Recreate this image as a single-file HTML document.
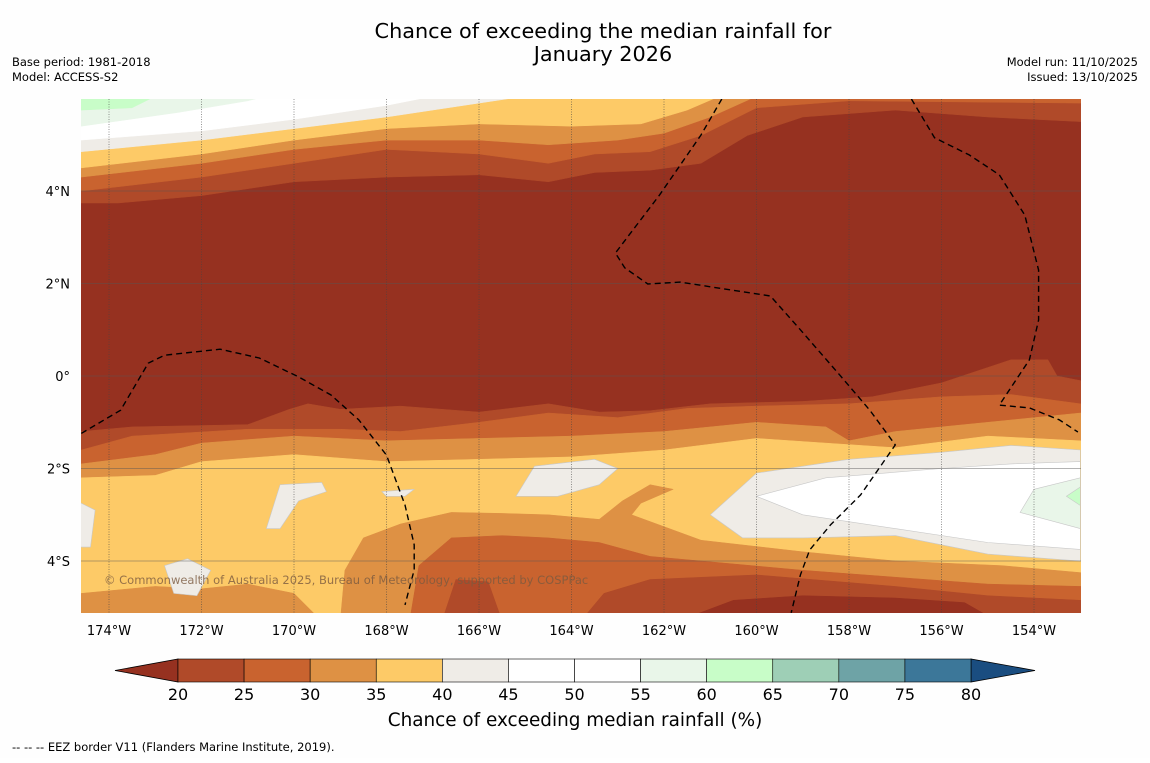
<!DOCTYPE html>
<html><head><meta charset="utf-8">
<style>
html,body{margin:0;padding:0;background:#fff;}
body{width:1150px;height:758px;overflow:hidden;font-family:"Liberation Sans","DejaVu Sans",sans-serif;}
svg text{font-family:"DejaVu Sans","Liberation Sans",sans-serif;}
</style></head>
<body>
<svg id="chart" width="1150" height="758" xmlns="http://www.w3.org/2000/svg">
<rect x="0" y="0" width="1150" height="758" fill="#fefefe"/>
<text x="603" y="38" text-anchor="middle" font-size="20.8" fill="#000">Chance of exceeding the median rainfall for</text>
<text x="603" y="61" text-anchor="middle" font-size="20.8" fill="#000">January 2026</text>
<text x="12" y="66" font-size="11.5">Base period: 1981-2018</text>
<text x="12" y="81" font-size="11.5">Model: ACCESS-S2</text>
<text x="1138" y="66" font-size="11.5" text-anchor="end">Model run: 11/10/2025</text>
<text x="1138" y="81" font-size="11.5" text-anchor="end">Issued: 13/10/2025</text>
<defs><clipPath id="mapclip"><rect x="81" y="99" width="1000" height="514"/></clipPath></defs>
<g id="map" clip-path="url(#mapclip)"></g>
<g id="axes"></g>
<g id="cbar"></g>
<text x="575" y="726" text-anchor="middle" font-size="18.4">Chance of exceeding median rainfall (%)</text>
<text x="12" y="751" font-size="11.5">--  --  -- EEZ border V11 (Flanders Marine Institute, 2019).</text>
</svg>
<script>
// ---- data ----
var lonTicks = [-174,-172,-170,-168,-166,-164,-162,-160,-158,-156,-154];
var latTicks = [4,2,0,-2,-4];
var cbarLevels = [20,25,30,35,40,45,50,55,60,65,70,75,80];
var cbarColors = ["#b04a29","#c9632f","#de9144","#fdca67","#efece7","#ffffff","#ffffff","#e9f6e9","#c8fdc8","#9ecfb6","#6ea3a6","#3c7799"];
var underColor = "#963120", overColor = "#1a4d80";
var colorDark="#963120",c20="#b04a29",c25="#c9632f",c30="#de9144",c35="#fdca67",c40="#efece7",c45="#ffffff",c55="#e9f6e9",c60="#c8fdc8";
var north20 = [[-174.6,3.74],[-173.8,3.74],[-172,3.9],[-170,4.2],[-168,4.3],[-166,4.35],[-164.5,4.2],[-163.5,4.4],[-162.3,4.45],[-161.2,4.6],[-160.2,5.2],[-159,5.6],[-157,5.75],[-155,5.6],[-153,5.5]];
var north25 = [[-174.6,4.0],[-172,4.3],[-170,4.6],[-168,4.9],[-166,4.8],[-164.5,4.6],[-163.5,4.8],[-162.3,4.85],[-161.2,5.2],[-160,5.8],[-158,5.95],[-153,5.9]];
var north30 = [[-174.6,4.3],[-172,4.6],[-170,4.9],[-168,5.1],[-166,5.1],[-164.5,5.0],[-163,5.1],[-162,5.25],[-161,5.6],[-160,6.05]];
var north35 = [[-174.6,4.5],[-172,4.8],[-170,5.1],[-168,5.35],[-166,5.45],[-164,5.4],[-162.5,5.45],[-161.5,5.75],[-160.8,6.05]];
var north40 = [[-174.6,4.85],[-172,5.1],[-170,5.35],[-168,5.6],[-166,5.9],[-165,6.05]];
var north45 = [[-174.6,5.1],[-172,5.3],[-170,5.55],[-168,5.85],[-167,6.05]];
var north55 = [[-174.6,5.4],[-172.5,5.7],[-171,5.95],[-170.6,6.05]];
var north60 = [[-174.6,5.75],[-173.5,5.8],[-173,6.05]];
var south20 = [[-174.6,-1.2],[-173.5,-1.1],[-171,-1.05],[-170.1,-0.72],[-169.7,-0.6],[-169,-0.72],[-167.7,-0.65],[-166,-0.78],[-164.5,-0.6],[-163.4,-0.78],[-162.3,-0.75],[-161,-0.6],[-159,-0.55],[-157.5,-0.45],[-156,-0.15],[-154.5,0.35],[-153.7,0.35],[-153.5,0.0],[-153,-0.1]];
var south25 = [[-174.6,-1.6],[-173.5,-1.3],[-171,-1.15],[-169,-1.15],[-167.7,-1.2],[-166,-1.0],[-164.5,-0.8],[-163,-0.9],[-161.5,-0.7],[-160,-0.65],[-158,-0.6],[-156,-0.45],[-154.5,-0.4],[-153,-0.6]];
var south30 = [[-174.6,-1.9],[-173,-1.7],[-172,-1.45],[-170,-1.3],[-168,-1.4],[-166,-1.35],[-164,-1.3],[-162,-1.2],[-160,-1.0],[-158.5,-1.1],[-158,-1.4],[-157,-1.2],[-155,-1.0],[-153,-0.8]];
var south35 = [[-174.6,-2.2],[-173,-2.15],[-172,-1.85],[-170,-1.7],[-168,-1.85],[-166,-1.8],[-164,-1.75],[-162,-1.6],[-160,-1.35],[-158.5,-1.45],[-157,-1.55],[-155,-1.3],[-153,-1.4]];
var bottom30 = [[-174.6,-4.7],[-173,-4.55],[-172,-4.6],[-171,-4.5],[-170,-4.7],[-169.4,-5.3],[-169,-5.3],[-168.9,-4.2],[-168.5,-3.5],[-167.7,-3.2],[-166.6,-2.95],[-165.5,-2.97],[-164.5,-3.0],[-163.4,-3.1],[-162.9,-2.7],[-162.3,-2.35],[-161.8,-2.45],[-162.5,-2.75],[-162.7,-3.0],[-161.2,-3.55],[-159,-3.8],[-157,-4.0],[-154.7,-4.1],[-153,-4.25]];
var bottom25 = [[-167.5,-5.3],[-167.3,-4.1],[-166.6,-3.5],[-165.5,-3.45],[-164.5,-3.5],[-163.4,-3.6],[-162.3,-3.9],[-161.2,-4.0],[-159,-4.2],[-157,-4.35],[-155,-4.5],[-153,-4.55]];
var bottom20a = [[-166.8,-5.3],[-166.5,-4.4],[-165.8,-4.45],[-165.5,-5.3]];
var bottom20b = [[-163.8,-5.3],[-163.3,-4.7],[-162.3,-4.4],[-160,-4.3],[-157,-4.55],[-155,-4.75],[-153,-4.85]];
var bottomDark = [[-161.7,-5.3],[-160.5,-4.85],[-159,-4.75],[-157,-4.8],[-155.5,-4.9],[-154.8,-5.3]];
var patch40Right = [[-161,-3.0],[-160,-2.1],[-158,-1.8],[-156,-1.65],[-154.5,-1.5],[-153,-1.6],[-153,-4.0],[-155,-3.85],[-157,-3.45],[-159,-3.5],[-160.3,-3.5]];
var patch45Right = [[-160,-2.6],[-158.5,-2.2],[-156,-2.0],[-154.5,-1.9],[-153,-1.85],[-153,-3.75],[-155,-3.6],[-157,-3.3],[-159,-3.0]];
var patch55Right = [[-153,-2.2],[-154,-2.45],[-154.3,-2.95],[-153,-3.3]];
var patch60Right = [[-153,-2.4],[-153.3,-2.6],[-153,-2.8]];
var patch40a = [[-165.2,-2.6],[-164.8,-1.95],[-163.5,-1.8],[-163.0,-2.0],[-163.4,-2.35],[-164.3,-2.6]];
var patch40b = [[-170.6,-3.3],[-170.3,-2.35],[-169.4,-2.3],[-169.3,-2.5],[-169.9,-2.7],[-170.3,-3.3]];
var patch40c = [[-172.6,-4.7],[-172.8,-4.1],[-172.3,-3.95],[-171.8,-4.2],[-172.1,-4.75]];
var patch40d = [[-174.7,-2.7],[-174.3,-2.9],[-174.4,-3.7],[-174.7,-3.7]];
var patch40e = [[-168.1,-2.5],[-167.4,-2.45],[-167.6,-2.6],[-168,-2.6]];
var eez1 = [[-174.6,-1.24],[-173.75,-0.74],[-173.15,0.28],[-172.8,0.45],[-171.6,0.58],[-170.75,0.39],[-169.9,-0.02],[-169.2,-0.41],[-168.6,-0.95],[-168,-1.71],[-167.6,-2.79],[-167.4,-3.65],[-167.4,-4.19],[-167.6,-4.95]];
var eez2 = [[-160.75,5.99],[-161.2,5.21],[-162.1,3.91],[-163.05,2.66],[-162.85,2.34],[-162.35,1.99],[-161.65,2.03],[-160.55,1.86],[-159.7,1.73],[-159.05,1.0],[-158.2,0.02],[-157.55,-0.74],[-157.0,-1.49],[-157.75,-2.57],[-158.4,-3.22],[-158.85,-3.76],[-159.05,-4.3],[-159.25,-5.12]];
var eez3 = [[-156.65,5.99],[-156.15,5.15],[-155.4,4.78],[-154.75,4.35],[-154.2,3.48],[-153.9,2.29],[-153.9,1.21],[-154.1,0.35],[-154.75,-0.63],[-154.1,-0.69],[-153.45,-0.95],[-153.05,-1.21]];

function xs(lon){return 109 + (lon+174)*46.25;}
function ys(lat){return 376 - lat*46.25;}
function cx(v){return 178 + (v-20)*(971-178)/60;}
var NS="http://www.w3.org/2000/svg";
var map=document.getElementById('map'), axes=document.getElementById('axes'), cbar=document.getElementById('cbar');
function mk(tag,attrs,parent){var e=document.createElementNS(NS,tag);for(var k in attrs)e.setAttribute(k,attrs[k]);parent.appendChild(e);return e;}
function ptsStr(arr){return arr.map(function(p){return xs(p[0]).toFixed(1)+','+ys(p[1]).toFixed(1);}).join(' ');}
function band(line, edgeLat, color, name){
  var first=line[0], last=line[line.length-1];
  var pts=[[first[0]-0.5,edgeLat]].concat([[first[0]-0.5,first[1]]],line,[[last[0]+0.5,last[1]],[last[0]+0.5,edgeLat]]);
  var e=mk('polygon',{points:ptsStr(pts),fill:color,stroke:color,'stroke-width':0.5},map);
  
  
}
function patch(poly,color,name){
  var e=mk('polygon',{points:ptsStr(poly),fill:color,stroke:'#c8c8c8','stroke-width':0.6},map);
  
  
}
var bg=mk('rect',{x:81,y:99,width:1000,height:514,fill:colorDark},map);


band(north20,6.3,c20,'north-band-20-25');
band(north25,6.3,c25,'north-band-25-30');
band(north30,6.3,c30,'north-band-30-35');
band(north35,6.3,c35,'north-band-35-40');
band(north40,6.3,c40,'north-band-40-45');
band(north45,6.3,c45,'north-band-45-55');
band(north55,6.3,c55,'north-band-55-60');
band(north60,6.3,c60,'north-band-60-65');
band(south20,-5.4,c20,'south-band-20-25');
band(south25,-5.4,c25,'south-band-25-30');
band(south30,-5.4,c30,'south-band-30-35');
band(south35,-5.4,c35,'south-band-35-40');
band(bottom30,-5.4,c30,'bottom-band-30-35');
band(bottom25,-5.4,c25,'bottom-band-25-30');
band(bottom20a,-5.4,c20,'bottom-band-20-25-west');
band(bottom20b,-5.4,c20,'bottom-band-20-25-east');
band(bottomDark,-5.4,colorDark,'bottom-band-below-20');
patch(patch40Right,c40,'patch-40-45-east');
patch(patch45Right,c45,'patch-45-55-east');
patch(patch55Right,c55,'patch-55-60-east');
patch(patch60Right,c60,'patch-60-65-east');
patch(patch40a,c40,'patch-40-45-a');
patch(patch40b,c40,'patch-40-45-b');
patch(patch40c,c40,'patch-40-45-c');
patch(patch40d,c40,'patch-40-45-d');
patch(patch40e,c40,'patch-40-45-e');
lonTicks.forEach(function(l){
  var g=mk('line',{x1:xs(l),x2:xs(l),y1:99,y2:613,stroke:'#444','stroke-width':0.7,'stroke-dasharray':'1,1.5','stroke-opacity':0.8},map);
  
  
});
latTicks.forEach(function(l){
  var g=mk('line',{x1:81,x2:1081,y1:ys(l),y2:ys(l),stroke:'#555','stroke-width':0.7,'stroke-opacity':0.6},map);
  
  
});
[eez1,eez2,eez3].forEach(function(ln,i){
  var e=mk('polyline',{points:ptsStr(ln),fill:'none',stroke:'#000','stroke-width':1.4,'stroke-dasharray':'6,4'},map);
  
  
});
var wm=mk('text',{x:104,y:584,'font-size':11.5,fill:'#7a5a40','fill-opacity':0.8},map);
wm.textContent='© Commonwealth of Australia 2025, Bureau of Meteorology, supported by COSPPac';


lonTicks.forEach(function(l){
  var t=mk('text',{x:xs(l),y:635,'font-size':13,'text-anchor':'middle'},axes);
  t.textContent=Math.abs(l)+'°W';
  
  
});
latTicks.forEach(function(l){
  var t=mk('text',{x:70,y:ys(l)+5,'font-size':13,'text-anchor':'end'},axes);
  t.textContent= l===0 ? '0°' : Math.abs(l)+'°'+(l>0?'N':'S');
  
  
});
var y0=659,y1=682;
var tl=mk('polygon',{points:'115,'+((y0+y1)/2)+' '+cx(20)+','+y0+' '+cx(20)+','+y1,fill:underColor,stroke:'#000','stroke-width':0.8},cbar);


var tr=mk('polygon',{points:'1035,'+((y0+y1)/2)+' '+cx(80)+','+y0+' '+cx(80)+','+y1,fill:overColor,stroke:'#000','stroke-width':0.8},cbar);


for(var i=0;i<cbarColors.length;i++){
  var r=mk('rect',{x:cx(cbarLevels[i]),y:y0,width:cx(cbarLevels[i+1])-cx(cbarLevels[i]),height:y1-y0,fill:cbarColors[i],stroke:'#000','stroke-width':0.6},cbar);
  
  
}
cbarLevels.forEach(function(v){
  var t=mk('text',{x:cx(v),y:700,'font-size':16,'text-anchor':'middle'},cbar);
  t.textContent=v;
  
  
});
</script>
</body></html>
